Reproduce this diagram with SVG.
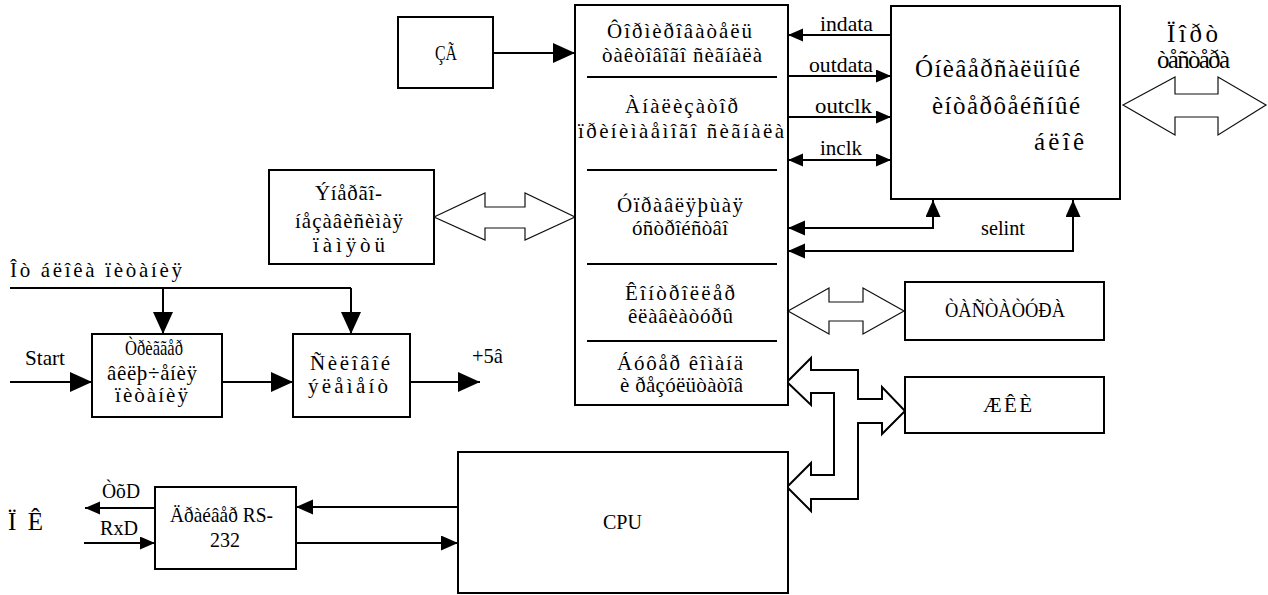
<svg xmlns="http://www.w3.org/2000/svg" width="1268" height="595" viewBox="0 0 1268 595">
<style>
.box{fill:#fff;stroke:#000;stroke-width:2}
.ln{fill:none;stroke:#000;stroke-width:2}
.dv{fill:none;stroke:#000;stroke-width:2}
.dbl{fill:#fff;stroke:#111;stroke-width:1.2}
.bus{fill:#fff;stroke:#000;stroke-width:2}
.m{font-size:21px}
.b{font-size:25px}
.l{font-size:21px}
</style>
<defs>
<marker id="aL" markerUnits="userSpaceOnUse" markerWidth="24" markerHeight="22" refX="22" refY="10" orient="auto-start-reverse"><path d="M0,0 L22,10 L0,20 z" fill="#000"/></marker>
<marker id="aM" markerUnits="userSpaceOnUse" markerWidth="18" markerHeight="17" refX="17" refY="7.5" orient="auto-start-reverse"><path d="M0,0 L17,7.5 L0,15 z" fill="#000"/></marker>
<marker id="aS" markerUnits="userSpaceOnUse" markerWidth="16" markerHeight="14" refX="15" refY="6.5" orient="auto-start-reverse"><path d="M0,0 L15,6.5 L0,13 z" fill="#000"/></marker>
</defs>
<rect width="1268" height="595" fill="#fff"/>
<g font-family="'Liberation Serif','DejaVu Serif','Times New Roman',serif" fill="#000">

<g id="connectors">
<line class="ln" x1="493" y1="53" x2="575" y2="53" marker-end="url(#aL)"/>
<line class="ln" x1="891" y1="35" x2="788" y2="35" marker-end="url(#aS)"/>
<line class="ln" x1="788" y1="76" x2="891" y2="76" marker-end="url(#aS)"/>
<line class="ln" x1="788" y1="117" x2="891" y2="117" marker-end="url(#aS)"/>
<line class="ln" x1="788" y1="160" x2="891" y2="160" marker-start="url(#aS)" marker-end="url(#aS)"/>
<polyline class="ln" points="933,200 933,228 788,228" marker-start="url(#aM)" marker-end="url(#aM)"/>
<polyline class="ln" points="1073,200 1073,251 788,251" marker-start="url(#aM)" marker-end="url(#aM)"/>
<polyline class="ln" points="10,288 351,288"/>
<line class="ln" x1="163" y1="288" x2="163" y2="334" marker-end="url(#aL)"/>
<line class="ln" x1="351" y1="288" x2="351" y2="334" marker-end="url(#aL)"/>
<line class="ln" x1="10" y1="382" x2="92" y2="382" marker-end="url(#aL)"/>
<line class="ln" x1="222" y1="382" x2="293" y2="382" marker-end="url(#aL)"/>
<line class="ln" x1="410" y1="382" x2="480" y2="382" marker-end="url(#aL)"/>
<line class="ln" x1="155" y1="508" x2="85" y2="508" marker-end="url(#aS)"/>
<line class="ln" x1="84" y1="543" x2="155" y2="543" marker-end="url(#aS)"/>
<line class="ln" x1="458" y1="507" x2="296" y2="507" marker-end="url(#aM)"/>
<line class="ln" x1="296" y1="543" x2="458" y2="543" marker-end="url(#aM)"/>
<polygon class="dbl" points="1123,105 1175,77 1175,94 1218,94 1218,77 1266,105 1218,135 1218,117 1175,117 1175,135"/>
<polygon class="dbl" points="434,217 485,193 485,207 525,207 525,193 575,217 525,240 525,228 485,228 485,240"/>
<polygon class="dbl" points="788,311 829,288 829,302 863,302 863,288 904,311 863,334 863,321 829,321 829,334"/>
<polygon class="bus" points="787,382 811,358 811,370 858,370 858,399 882,399 882,387 905,411 882,434 882,423 858,423 858,499 811,499 811,511 787,487 811,463 811,475 834,475 834,393 811,393 811,405"/>
<text class="l" x="820" y="31" textLength="53" lengthAdjust="spacingAndGlyphs">indata</text>
<text class="l" x="809" y="72" textLength="64" lengthAdjust="spacingAndGlyphs">outdata</text>
<text class="l" x="815" y="113" textLength="57" lengthAdjust="spacingAndGlyphs">outclk</text>
<text class="l" x="820" y="155" textLength="42" lengthAdjust="spacingAndGlyphs">inclk</text>
<text class="l" x="981" y="235" textLength="44" lengthAdjust="spacingAndGlyphs">selint</text>
<text class="m" x="25" y="365" textLength="40" lengthAdjust="spacingAndGlyphs">Start</text>
<text class="m" x="472" y="363" textLength="31" lengthAdjust="spacingAndGlyphs">+5â</text>
<text class="m" x="102" y="498" textLength="38" lengthAdjust="spacingAndGlyphs">ÒõD</text>
<text class="m" x="100" y="535" textLength="38" lengthAdjust="spacingAndGlyphs">RxD</text>
<text class="m" x="10" y="277" textLength="172" lengthAdjust="spacing">Îò áëîêà ïèòàíèÿ</text>
<text class="b" x="1167" y="42" textLength="51" lengthAdjust="spacing">Ïîðò</text>
<text class="b" x="1157" y="68" textLength="73" lengthAdjust="spacing">òåñòåðà</text>
<text style="font-size:25px" x="8" y="530" textLength="35" lengthAdjust="spacing">ÏÊ</text>
</g>

<g id="zg">
<rect class="box" x="398" y="17" width="95" height="71"/>
<text class="m" x="435" y="60" textLength="22" lengthAdjust="spacingAndGlyphs">ÇÃ</text>
</g>

<g id="main">
<rect class="box" x="575" y="5" width="213" height="400"/>
<line class="dv" x1="587" y1="77" x2="777" y2="77"/>
<line class="dv" x1="587" y1="170" x2="777" y2="170"/>
<line class="dv" x1="587" y1="264" x2="777" y2="264"/>
<line class="dv" x1="587" y1="341" x2="777" y2="341"/>
<text class="m" x="607" y="38" textLength="145" lengthAdjust="spacing">Ôîðìèðîâàòåëü</text>
<text class="m" x="602" y="62" textLength="160" lengthAdjust="spacing">òàêòîâîãî ñèãíàëà</text>
<text class="m" x="625" y="113" textLength="113" lengthAdjust="spacing">Àíàëèçàòîð</text>
<text class="m" x="578" y="138" textLength="206" lengthAdjust="spacing">ïðèíèìàåìîãî ñèãíàëà</text>
<text class="m" x="617" y="212" textLength="126" lengthAdjust="spacing">Óïðàâëÿþùàÿ</text>
<text class="m" x="632" y="235" textLength="96" lengthAdjust="spacing">óñòðîéñòâî</text>
<text class="m" x="625" y="300" textLength="110" lengthAdjust="spacing">Êîíòðîëëåð</text>
<text class="m" x="628" y="323" textLength="105" lengthAdjust="spacing">êëàâèàòóðû</text>
<text class="m" x="617" y="370" textLength="126" lengthAdjust="spacing">Áóôåð êîìàíä</text>
<text class="m" x="620" y="392" textLength="123" lengthAdjust="spacing">è ðåçóëüòàòîâ</text>
</g>

<g id="uib">
<rect class="box" x="891" y="6" width="229" height="193"/>
<text class="b" x="915" y="77" textLength="165" lengthAdjust="spacing">Óíèâåðñàëüíûé</text>
<text class="b" x="932" y="114" textLength="148" lengthAdjust="spacing">èíòåðôåéñíûé</text>
<text class="b" x="1034" y="150" textLength="50" lengthAdjust="spacing">áëîê</text>
</g>

<g id="nvram">
<rect class="box" x="269" y="170" width="165" height="94"/>
<text class="m" x="315" y="200" textLength="67" lengthAdjust="spacing">Ýíåðãî-</text>
<text class="m" x="295" y="228" textLength="108" lengthAdjust="spacing">íåçàâèñèìàÿ</text>
<text class="m" x="313" y="252" textLength="72" lengthAdjust="spacing">ïàìÿòü</text>
</g>

<g id="trigger">
<rect class="box" x="92" y="334" width="130" height="83"/>
<text class="m" x="125" y="355" textLength="58" lengthAdjust="spacingAndGlyphs">Òðèããåð</text>
<text class="m" x="107" y="380" textLength="90" lengthAdjust="spacing">âêëþ÷åíèÿ</text>
<text class="m" x="115" y="402" textLength="73" lengthAdjust="spacing">ïèòàíèÿ</text>
</g>

<g id="power">
<rect class="box" x="293" y="334" width="117" height="83"/>
<text class="m" x="310" y="370" textLength="80" lengthAdjust="spacing">Ñèëîâîé</text>
<text class="m" x="308" y="393" textLength="80" lengthAdjust="spacing">ýëåìåíò</text>
</g>

<g id="keyboard">
<rect class="box" x="905" y="282" width="199" height="58"/>
<text class="m" x="945" y="317" textLength="120" lengthAdjust="spacingAndGlyphs">ÒÀÑÒÀÒÓÐÀ</text>
</g>

<g id="lcd">
<rect class="box" x="905" y="377" width="199" height="56"/>
<text class="m" x="983" y="412" textLength="49" lengthAdjust="spacing">ÆÊÈ</text>
</g>

<g id="driver">
<rect class="box" x="155" y="487" width="141" height="82"/>
<text class="m" x="170" y="522" textLength="103" lengthAdjust="spacingAndGlyphs">Äðàéâåð RS-</text>
<text class="m" x="210" y="547" textLength="30" lengthAdjust="spacingAndGlyphs">232</text>
</g>

<g id="cpu">
<rect class="box" x="458" y="452" width="330" height="141"/>
<text class="m" x="603" y="529" textLength="39" lengthAdjust="spacingAndGlyphs">CPU</text>
</g>
</g>
</svg>
